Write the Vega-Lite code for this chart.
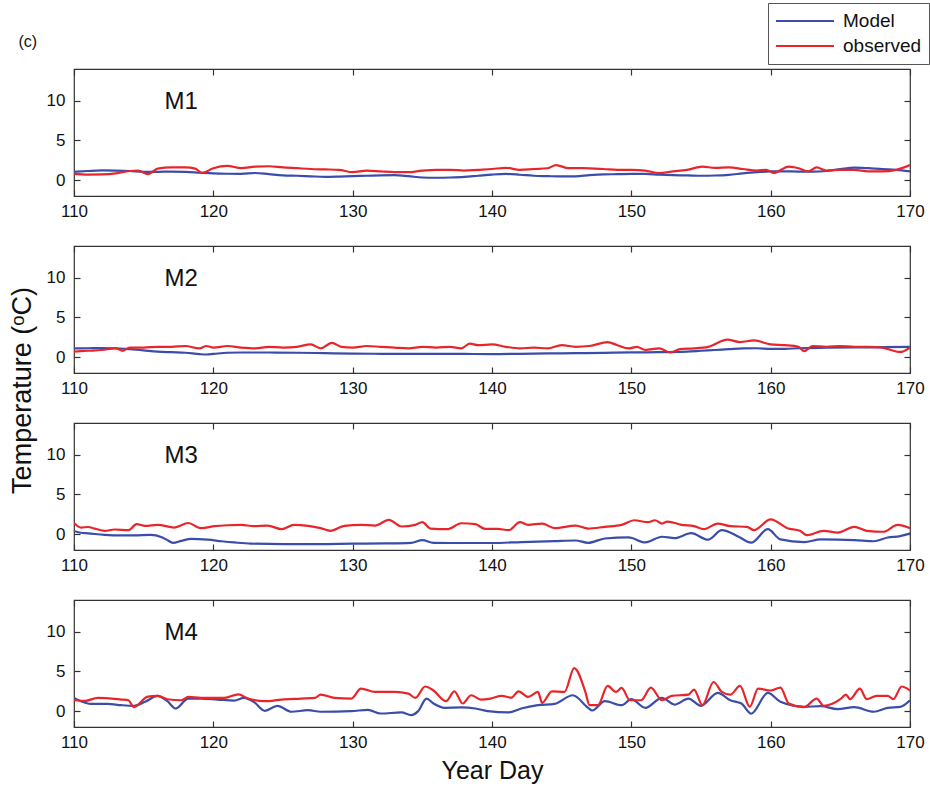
{
  "$schema": "https://vega.github.io/schema/vega-lite/v6.json",
  "padding": {"left": 7, "top": 2, "right": 2, "bottom": 2},
  "background": "white",
  "title": {"text": "(c)", "anchor": "start", "frame": "bounds", "fontSize": 16, "font": "Liberation Sans", "fontWeight": "normal", "color": "#111", "offset": -47, "dx": 11},
  "config": {
    "view": {"stroke": "#333", "strokeWidth": 1.2},
    "axis": {"domain": false, "grid": false, "tickColor": "#333", "tickSize": -6, "tickWidth": 1.2, "labelFont": "Liberation Sans Narrow, Arial Narrow, Liberation Sans", "labelFontSize": 17, "labelColor": "#111", "labelFlush": false},
    "axisX": {"labelPadding": 13},
    "axisY": {"labelPadding": 15},
    "legend": {"orient": "none", "legendX": 694, "legendY": -66, "title": null, "symbolType": "stroke", "symbolSize": 3364, "symbolStrokeWidth": 2, "clipHeight": 22, "labelFont": "Liberation Sans", "labelFontSize": 19, "labelColor": "#111", "strokeColor": "#555", "fillColor": "white", "padding": 7, "rowPadding": 3, "labelOffset": 8}
  },
  "spacing": 50,
  "bounds": "flush",
  "datasets": {
    "temp": [
      {"p":"M1","s":"Model","d":110,"t":1.05},{"p":"M1","s":"Model","d":111,"t":1.15},{"p":"M1","s":"Model","d":112,"t":1.22},{"p":"M1","s":"Model","d":113,"t":1.2},{"p":"M1","s":"Model","d":114,"t":1.15},{"p":"M1","s":"Model","d":115,"t":1.05},{"p":"M1","s":"Model","d":116,"t":1.05},{"p":"M1","s":"Model","d":117,"t":1.08},{"p":"M1","s":"Model","d":118,"t":1.05},{"p":"M1","s":"Model","d":119,"t":0.95},{"p":"M1","s":"Model","d":120,"t":0.85},{"p":"M1","s":"Model","d":121,"t":0.8},{"p":"M1","s":"Model","d":122,"t":0.78},{"p":"M1","s":"Model","d":123,"t":0.9},{"p":"M1","s":"Model","d":124,"t":0.75},{"p":"M1","s":"Model","d":125,"t":0.6},{"p":"M1","s":"Model","d":126,"t":0.55},{"p":"M1","s":"Model","d":127,"t":0.48},{"p":"M1","s":"Model","d":128,"t":0.42},{"p":"M1","s":"Model","d":129,"t":0.45},{"p":"M1","s":"Model","d":130,"t":0.5},{"p":"M1","s":"Model","d":131,"t":0.55},{"p":"M1","s":"Model","d":132,"t":0.6},{"p":"M1","s":"Model","d":133,"t":0.62},{"p":"M1","s":"Model","d":134,"t":0.5},{"p":"M1","s":"Model","d":135,"t":0.33},{"p":"M1","s":"Model","d":136,"t":0.3},{"p":"M1","s":"Model","d":137,"t":0.33},{"p":"M1","s":"Model","d":138,"t":0.4},{"p":"M1","s":"Model","d":139,"t":0.55},{"p":"M1","s":"Model","d":140,"t":0.7},{"p":"M1","s":"Model","d":141,"t":0.78},{"p":"M1","s":"Model","d":142,"t":0.68},{"p":"M1","s":"Model","d":143,"t":0.55},{"p":"M1","s":"Model","d":144,"t":0.5},{"p":"M1","s":"Model","d":145,"t":0.46},{"p":"M1","s":"Model","d":146,"t":0.48},{"p":"M1","s":"Model","d":147,"t":0.62},{"p":"M1","s":"Model","d":148,"t":0.72},{"p":"M1","s":"Model","d":149,"t":0.75},{"p":"M1","s":"Model","d":150,"t":0.78},{"p":"M1","s":"Model","d":151,"t":0.78},{"p":"M1","s":"Model","d":152,"t":0.68},{"p":"M1","s":"Model","d":153,"t":0.62},{"p":"M1","s":"Model","d":154,"t":0.6},{"p":"M1","s":"Model","d":155,"t":0.55},{"p":"M1","s":"Model","d":156,"t":0.58},{"p":"M1","s":"Model","d":157,"t":0.67},{"p":"M1","s":"Model","d":158,"t":0.85},{"p":"M1","s":"Model","d":159,"t":1.0},{"p":"M1","s":"Model","d":160,"t":1.1},{"p":"M1","s":"Model","d":161,"t":1.1},{"p":"M1","s":"Model","d":162,"t":1.08},{"p":"M1","s":"Model","d":163,"t":1.08},{"p":"M1","s":"Model","d":164,"t":1.15},{"p":"M1","s":"Model","d":165,"t":1.38},{"p":"M1","s":"Model","d":166,"t":1.58},{"p":"M1","s":"Model","d":167,"t":1.5},{"p":"M1","s":"Model","d":168,"t":1.38},{"p":"M1","s":"Model","d":169,"t":1.3},{"p":"M1","s":"Model","d":170,"t":1.1},
      {"p":"M1","s":"observed","d":110,"t":0.8},{"p":"M1","s":"observed","d":111,"t":0.7},{"p":"M1","s":"observed","d":112,"t":0.72},{"p":"M1","s":"observed","d":113,"t":0.85},{"p":"M1","s":"observed","d":114,"t":1.15},{"p":"M1","s":"observed","d":114.6,"t":1.2},{"p":"M1","s":"observed","d":115.3,"t":0.75},{"p":"M1","s":"observed","d":116,"t":1.45},{"p":"M1","s":"observed","d":117,"t":1.6},{"p":"M1","s":"observed","d":118,"t":1.6},{"p":"M1","s":"observed","d":118.7,"t":1.45},{"p":"M1","s":"observed","d":119.2,"t":0.9},{"p":"M1","s":"observed","d":120,"t":1.5},{"p":"M1","s":"observed","d":121,"t":1.8},{"p":"M1","s":"observed","d":122,"t":1.5},{"p":"M1","s":"observed","d":123,"t":1.7},{"p":"M1","s":"observed","d":124,"t":1.75},{"p":"M1","s":"observed","d":125,"t":1.6},{"p":"M1","s":"observed","d":126,"t":1.5},{"p":"M1","s":"observed","d":127,"t":1.4},{"p":"M1","s":"observed","d":128,"t":1.35},{"p":"M1","s":"observed","d":129,"t":1.3},{"p":"M1","s":"observed","d":130,"t":1.0},{"p":"M1","s":"observed","d":131,"t":1.2},{"p":"M1","s":"observed","d":132,"t":1.1},{"p":"M1","s":"observed","d":133,"t":1.0},{"p":"M1","s":"observed","d":134,"t":1.0},{"p":"M1","s":"observed","d":135,"t":1.2},{"p":"M1","s":"observed","d":136,"t":1.3},{"p":"M1","s":"observed","d":137,"t":1.3},{"p":"M1","s":"observed","d":138,"t":1.2},{"p":"M1","s":"observed","d":139,"t":1.3},{"p":"M1","s":"observed","d":140,"t":1.4},{"p":"M1","s":"observed","d":141,"t":1.55},{"p":"M1","s":"observed","d":142,"t":1.3},{"p":"M1","s":"observed","d":143,"t":1.4},{"p":"M1","s":"observed","d":144,"t":1.5},{"p":"M1","s":"observed","d":144.6,"t":1.9},{"p":"M1","s":"observed","d":145.5,"t":1.5},{"p":"M1","s":"observed","d":146.5,"t":1.5},{"p":"M1","s":"observed","d":148,"t":1.4},{"p":"M1","s":"observed","d":149,"t":1.3},{"p":"M1","s":"observed","d":150,"t":1.3},{"p":"M1","s":"observed","d":151,"t":1.2},{"p":"M1","s":"observed","d":152,"t":0.9},{"p":"M1","s":"observed","d":153,"t":1.1},{"p":"M1","s":"observed","d":154,"t":1.3},{"p":"M1","s":"observed","d":155.1,"t":1.7},{"p":"M1","s":"observed","d":156,"t":1.55},{"p":"M1","s":"observed","d":157,"t":1.6},{"p":"M1","s":"observed","d":158,"t":1.4},{"p":"M1","s":"observed","d":159,"t":1.2},{"p":"M1","s":"observed","d":159.7,"t":1.3},{"p":"M1","s":"observed","d":160.2,"t":0.9},{"p":"M1","s":"observed","d":161.3,"t":1.7},{"p":"M1","s":"observed","d":162,"t":1.5},{"p":"M1","s":"observed","d":162.7,"t":1.1},{"p":"M1","s":"observed","d":163.3,"t":1.6},{"p":"M1","s":"observed","d":164,"t":1.2},{"p":"M1","s":"observed","d":165,"t":1.3},{"p":"M1","s":"observed","d":166,"t":1.3},{"p":"M1","s":"observed","d":167,"t":1.1},{"p":"M1","s":"observed","d":168,"t":1.1},{"p":"M1","s":"observed","d":169,"t":1.3},{"p":"M1","s":"observed","d":170,"t":1.9},
      {"p":"M2","s":"Model","d":110,"t":1.1},{"p":"M2","s":"Model","d":111,"t":1.12},{"p":"M2","s":"Model","d":112,"t":1.15},{"p":"M2","s":"Model","d":113,"t":1.12},{"p":"M2","s":"Model","d":114,"t":1.0},{"p":"M2","s":"Model","d":115,"t":0.85},{"p":"M2","s":"Model","d":116,"t":0.7},{"p":"M2","s":"Model","d":117,"t":0.62},{"p":"M2","s":"Model","d":118,"t":0.55},{"p":"M2","s":"Model","d":119,"t":0.38},{"p":"M2","s":"Model","d":119.5,"t":0.33},{"p":"M2","s":"Model","d":120,"t":0.4},{"p":"M2","s":"Model","d":121,"t":0.55},{"p":"M2","s":"Model","d":122,"t":0.58},{"p":"M2","s":"Model","d":124,"t":0.58},{"p":"M2","s":"Model","d":126,"t":0.55},{"p":"M2","s":"Model","d":128,"t":0.5},{"p":"M2","s":"Model","d":130,"t":0.45},{"p":"M2","s":"Model","d":132,"t":0.42},{"p":"M2","s":"Model","d":134,"t":0.42},{"p":"M2","s":"Model","d":136,"t":0.42},{"p":"M2","s":"Model","d":138,"t":0.4},{"p":"M2","s":"Model","d":140,"t":0.38},{"p":"M2","s":"Model","d":142,"t":0.42},{"p":"M2","s":"Model","d":144,"t":0.46},{"p":"M2","s":"Model","d":146,"t":0.5},{"p":"M2","s":"Model","d":148,"t":0.54},{"p":"M2","s":"Model","d":150,"t":0.6},{"p":"M2","s":"Model","d":152,"t":0.62},{"p":"M2","s":"Model","d":154,"t":0.7},{"p":"M2","s":"Model","d":155,"t":0.8},{"p":"M2","s":"Model","d":156,"t":0.9},{"p":"M2","s":"Model","d":157,"t":1.0},{"p":"M2","s":"Model","d":158,"t":1.1},{"p":"M2","s":"Model","d":159,"t":1.12},{"p":"M2","s":"Model","d":160,"t":1.04},{"p":"M2","s":"Model","d":161,"t":1.05},{"p":"M2","s":"Model","d":162,"t":1.12},{"p":"M2","s":"Model","d":164,"t":1.18},{"p":"M2","s":"Model","d":166,"t":1.22},{"p":"M2","s":"Model","d":168,"t":1.25},{"p":"M2","s":"Model","d":170,"t":1.3},
      {"p":"M2","s":"observed","d":110,"t":0.7},{"p":"M2","s":"observed","d":111,"t":0.8},{"p":"M2","s":"observed","d":112,"t":0.9},{"p":"M2","s":"observed","d":113,"t":1.1},{"p":"M2","s":"observed","d":113.5,"t":0.8},{"p":"M2","s":"observed","d":114,"t":1.2},{"p":"M2","s":"observed","d":115,"t":1.2},{"p":"M2","s":"observed","d":116,"t":1.3},{"p":"M2","s":"observed","d":117,"t":1.3},{"p":"M2","s":"observed","d":118,"t":1.4},{"p":"M2","s":"observed","d":119,"t":1.1},{"p":"M2","s":"observed","d":119.5,"t":1.4},{"p":"M2","s":"observed","d":120,"t":1.2},{"p":"M2","s":"observed","d":121,"t":1.4},{"p":"M2","s":"observed","d":122,"t":1.2},{"p":"M2","s":"observed","d":123,"t":1.1},{"p":"M2","s":"observed","d":124,"t":1.3},{"p":"M2","s":"observed","d":125,"t":1.2},{"p":"M2","s":"observed","d":126,"t":1.3},{"p":"M2","s":"observed","d":127,"t":1.6},{"p":"M2","s":"observed","d":127.7,"t":1.1},{"p":"M2","s":"observed","d":128.5,"t":1.8},{"p":"M2","s":"observed","d":129.2,"t":1.3},{"p":"M2","s":"observed","d":130,"t":1.2},{"p":"M2","s":"observed","d":131,"t":1.4},{"p":"M2","s":"observed","d":132,"t":1.3},{"p":"M2","s":"observed","d":133,"t":1.2},{"p":"M2","s":"observed","d":134,"t":1.1},{"p":"M2","s":"observed","d":135,"t":1.3},{"p":"M2","s":"observed","d":136,"t":1.2},{"p":"M2","s":"observed","d":137,"t":1.3},{"p":"M2","s":"observed","d":137.8,"t":1.1},{"p":"M2","s":"observed","d":138.4,"t":1.7},{"p":"M2","s":"observed","d":139,"t":1.5},{"p":"M2","s":"observed","d":140,"t":1.6},{"p":"M2","s":"observed","d":141,"t":1.3},{"p":"M2","s":"observed","d":142,"t":1.1},{"p":"M2","s":"observed","d":143,"t":1.2},{"p":"M2","s":"observed","d":144,"t":1.1},{"p":"M2","s":"observed","d":145,"t":1.5},{"p":"M2","s":"observed","d":146,"t":1.3},{"p":"M2","s":"observed","d":147,"t":1.4},{"p":"M2","s":"observed","d":148.3,"t":1.9},{"p":"M2","s":"observed","d":149,"t":1.5},{"p":"M2","s":"observed","d":149.8,"t":1.1},{"p":"M2","s":"observed","d":150.4,"t":1.3},{"p":"M2","s":"observed","d":151,"t":0.9},{"p":"M2","s":"observed","d":152,"t":1.1},{"p":"M2","s":"observed","d":152.8,"t":0.6},{"p":"M2","s":"observed","d":153.5,"t":1.0},{"p":"M2","s":"observed","d":154.5,"t":1.1},{"p":"M2","s":"observed","d":155.5,"t":1.3},{"p":"M2","s":"observed","d":156.9,"t":2.2},{"p":"M2","s":"observed","d":157.8,"t":1.9},{"p":"M2","s":"observed","d":158.8,"t":2.1},{"p":"M2","s":"observed","d":160,"t":1.6},{"p":"M2","s":"observed","d":161,"t":1.5},{"p":"M2","s":"observed","d":162,"t":1.3},{"p":"M2","s":"observed","d":162.4,"t":0.75},{"p":"M2","s":"observed","d":163,"t":1.4},{"p":"M2","s":"observed","d":164,"t":1.3},{"p":"M2","s":"observed","d":165,"t":1.4},{"p":"M2","s":"observed","d":166,"t":1.3},{"p":"M2","s":"observed","d":167,"t":1.3},{"p":"M2","s":"observed","d":168,"t":1.2},{"p":"M2","s":"observed","d":169.3,"t":0.65},{"p":"M2","s":"observed","d":170,"t":1.2},
      {"p":"M3","s":"Model","d":110,"t":0.4},{"p":"M3","s":"Model","d":110.5,"t":0.17},{"p":"M3","s":"Model","d":111,"t":0.1},{"p":"M3","s":"Model","d":112.2,"t":-0.1},{"p":"M3","s":"Model","d":113.4,"t":-0.17},{"p":"M3","s":"Model","d":114.3,"t":-0.17},{"p":"M3","s":"Model","d":115.5,"t":-0.1},{"p":"M3","s":"Model","d":116.3,"t":-0.4},{"p":"M3","s":"Model","d":116.7,"t":-0.75},{"p":"M3","s":"Model","d":117.1,"t":-1.1},{"p":"M3","s":"Model","d":117.7,"t":-0.85},{"p":"M3","s":"Model","d":118.4,"t":-0.6},{"p":"M3","s":"Model","d":119.6,"t":-0.7},{"p":"M3","s":"Model","d":120.6,"t":-0.9},{"p":"M3","s":"Model","d":121.5,"t":-1.05},{"p":"M3","s":"Model","d":122.7,"t":-1.2},{"p":"M3","s":"Model","d":125.1,"t":-1.25},{"p":"M3","s":"Model","d":127.5,"t":-1.25},{"p":"M3","s":"Model","d":130,"t":-1.2},{"p":"M3","s":"Model","d":132.3,"t":-1.17},{"p":"M3","s":"Model","d":134.2,"t":-1.1},{"p":"M3","s":"Model","d":135,"t":-0.75},{"p":"M3","s":"Model","d":135.8,"t":-1.1},{"p":"M3","s":"Model","d":137,"t":-1.12},{"p":"M3","s":"Model","d":140,"t":-1.12},{"p":"M3","s":"Model","d":142.1,"t":-1.0},{"p":"M3","s":"Model","d":144.5,"t":-0.87},{"p":"M3","s":"Model","d":146,"t":-0.8},{"p":"M3","s":"Model","d":146.9,"t":-1.1},{"p":"M3","s":"Model","d":148.1,"t":-0.55},{"p":"M3","s":"Model","d":149.8,"t":-0.42},{"p":"M3","s":"Model","d":151,"t":-1.05},{"p":"M3","s":"Model","d":152.2,"t":-0.33},{"p":"M3","s":"Model","d":153.1,"t":-0.5},{"p":"M3","s":"Model","d":154.3,"t":0.12},{"p":"M3","s":"Model","d":155.5,"t":-0.7},{"p":"M3","s":"Model","d":156.5,"t":0.5},{"p":"M3","s":"Model","d":157.7,"t":-0.33},{"p":"M3","s":"Model","d":158.6,"t":-1.08},{"p":"M3","s":"Model","d":159.8,"t":0.62},{"p":"M3","s":"Model","d":160.7,"t":-0.67},{"p":"M3","s":"Model","d":162.4,"t":-1.0},{"p":"M3","s":"Model","d":163.6,"t":-0.67},{"p":"M3","s":"Model","d":166,"t":-0.75},{"p":"M3","s":"Model","d":167.4,"t":-0.9},{"p":"M3","s":"Model","d":168.4,"t":-0.42},{"p":"M3","s":"Model","d":169.3,"t":-0.25},{"p":"M3","s":"Model","d":170,"t":0.1},
      {"p":"M3","s":"observed","d":110,"t":1.4},{"p":"M3","s":"observed","d":110.5,"t":0.83},{"p":"M3","s":"observed","d":111,"t":0.9},{"p":"M3","s":"observed","d":111.5,"t":0.7},{"p":"M3","s":"observed","d":112.2,"t":0.4},{"p":"M3","s":"observed","d":112.9,"t":0.58},{"p":"M3","s":"observed","d":113.9,"t":0.5},{"p":"M3","s":"observed","d":114.5,"t":1.25},{"p":"M3","s":"observed","d":115.1,"t":1.04},{"p":"M3","s":"observed","d":116,"t":1.17},{"p":"M3","s":"observed","d":117.2,"t":0.83},{"p":"M3","s":"observed","d":118.2,"t":1.4},{"p":"M3","s":"observed","d":119.1,"t":0.75},{"p":"M3","s":"observed","d":120.1,"t":1.0},{"p":"M3","s":"observed","d":121,"t":1.12},{"p":"M3","s":"observed","d":122,"t":1.17},{"p":"M3","s":"observed","d":122.9,"t":1.0},{"p":"M3","s":"observed","d":123.9,"t":1.08},{"p":"M3","s":"observed","d":124.9,"t":0.62},{"p":"M3","s":"observed","d":125.8,"t":1.17},{"p":"M3","s":"observed","d":126.8,"t":1.04},{"p":"M3","s":"observed","d":127.7,"t":0.75},{"p":"M3","s":"observed","d":128.4,"t":0.42},{"p":"M3","s":"observed","d":129.4,"t":1.04},{"p":"M3","s":"observed","d":130.6,"t":1.17},{"p":"M3","s":"observed","d":131.6,"t":1.08},{"p":"M3","s":"observed","d":132.6,"t":1.8},{"p":"M3","s":"observed","d":133.5,"t":0.96},{"p":"M3","s":"observed","d":134.5,"t":1.17},{"p":"M3","s":"observed","d":135,"t":1.5},{"p":"M3","s":"observed","d":135.6,"t":0.7},{"p":"M3","s":"observed","d":136.8,"t":0.62},{"p":"M3","s":"observed","d":137.8,"t":1.37},{"p":"M3","s":"observed","d":138.8,"t":1.25},{"p":"M3","s":"observed","d":139.5,"t":0.67},{"p":"M3","s":"observed","d":140.4,"t":0.67},{"p":"M3","s":"observed","d":141.2,"t":0.5},{"p":"M3","s":"observed","d":142,"t":1.5},{"p":"M3","s":"observed","d":142.6,"t":1.17},{"p":"M3","s":"observed","d":143.6,"t":1.33},{"p":"M3","s":"observed","d":144.5,"t":0.75},{"p":"M3","s":"observed","d":146,"t":1.08},{"p":"M3","s":"observed","d":146.9,"t":0.7},{"p":"M3","s":"observed","d":148.1,"t":0.92},{"p":"M3","s":"observed","d":149.3,"t":1.17},{"p":"M3","s":"observed","d":150.2,"t":1.75},{"p":"M3","s":"observed","d":151.2,"t":1.5},{"p":"M3","s":"observed","d":151.7,"t":1.75},{"p":"M3","s":"observed","d":152.2,"t":1.33},{"p":"M3","s":"observed","d":152.6,"t":1.58},{"p":"M3","s":"observed","d":153.6,"t":1.17},{"p":"M3","s":"observed","d":154.5,"t":1.0},{"p":"M3","s":"observed","d":155.2,"t":0.62},{"p":"M3","s":"observed","d":156.2,"t":1.33},{"p":"M3","s":"observed","d":157.1,"t":1.0},{"p":"M3","s":"observed","d":158.3,"t":0.92},{"p":"M3","s":"observed","d":158.8,"t":0.5},{"p":"M3","s":"observed","d":160,"t":1.87},{"p":"M3","s":"observed","d":161.2,"t":0.75},{"p":"M3","s":"observed","d":162.1,"t":0.42},{"p":"M3","s":"observed","d":162.6,"t":-0.12},{"p":"M3","s":"observed","d":163.8,"t":0.42},{"p":"M3","s":"observed","d":164.8,"t":0.2},{"p":"M3","s":"observed","d":166,"t":0.92},{"p":"M3","s":"observed","d":166.9,"t":0.42},{"p":"M3","s":"observed","d":168.1,"t":0.3},{"p":"M3","s":"observed","d":169.1,"t":1.17},{"p":"M3","s":"observed","d":170,"t":0.75},
      {"p":"M4","s":"Model","d":110,"t":1.67},{"p":"M4","s":"Model","d":110.5,"t":1.25},{"p":"M4","s":"Model","d":111.2,"t":0.92},{"p":"M4","s":"Model","d":112.4,"t":0.92},{"p":"M4","s":"Model","d":113.4,"t":0.75},{"p":"M4","s":"Model","d":114.3,"t":0.67},{"p":"M4","s":"Model","d":115.1,"t":1.17},{"p":"M4","s":"Model","d":116,"t":1.92},{"p":"M4","s":"Model","d":116.7,"t":1.25},{"p":"M4","s":"Model","d":117.3,"t":0.33},{"p":"M4","s":"Model","d":118.2,"t":1.58},{"p":"M4","s":"Model","d":119.1,"t":1.58},{"p":"M4","s":"Model","d":120.3,"t":1.46},{"p":"M4","s":"Model","d":121.5,"t":1.33},{"p":"M4","s":"Model","d":122.2,"t":1.67},{"p":"M4","s":"Model","d":122.9,"t":1.17},{"p":"M4","s":"Model","d":123.7,"t":0.04},{"p":"M4","s":"Model","d":124.6,"t":0.67},{"p":"M4","s":"Model","d":125.6,"t":-0.08},{"p":"M4","s":"Model","d":126.8,"t":0.12},{"p":"M4","s":"Model","d":127.7,"t":-0.08},{"p":"M4","s":"Model","d":129.9,"t":0},{"p":"M4","s":"Model","d":131.1,"t":0.17},{"p":"M4","s":"Model","d":132,"t":-0.3},{"p":"M4","s":"Model","d":133.5,"t":-0.17},{"p":"M4","s":"Model","d":134.2,"t":-0.5},{"p":"M4","s":"Model","d":134.7,"t":0},{"p":"M4","s":"Model","d":135.3,"t":1.58},{"p":"M4","s":"Model","d":135.8,"t":0.96},{"p":"M4","s":"Model","d":136.6,"t":0.42},{"p":"M4","s":"Model","d":137.8,"t":0.46},{"p":"M4","s":"Model","d":138.8,"t":0.33},{"p":"M4","s":"Model","d":139.7,"t":0},{"p":"M4","s":"Model","d":141.2,"t":-0.17},{"p":"M4","s":"Model","d":142.1,"t":0.33},{"p":"M4","s":"Model","d":143.3,"t":0.75},{"p":"M4","s":"Model","d":144.5,"t":0.92},{"p":"M4","s":"Model","d":145.8,"t":2.0},{"p":"M4","s":"Model","d":146.9,"t":0.42},{"p":"M4","s":"Model","d":147.2,"t":0.08},{"p":"M4","s":"Model","d":148.1,"t":1.25},{"p":"M4","s":"Model","d":149.3,"t":0.75},{"p":"M4","s":"Model","d":150,"t":1.5},{"p":"M4","s":"Model","d":151,"t":0.42},{"p":"M4","s":"Model","d":152.2,"t":1.67},{"p":"M4","s":"Model","d":153.1,"t":0.83},{"p":"M4","s":"Model","d":154.1,"t":1.58},{"p":"M4","s":"Model","d":155,"t":0.67},{"p":"M4","s":"Model","d":156.2,"t":2.3},{"p":"M4","s":"Model","d":157.1,"t":1.37},{"p":"M4","s":"Model","d":157.9,"t":0.96},{"p":"M4","s":"Model","d":158.6,"t":-0.33},{"p":"M4","s":"Model","d":159.8,"t":2.3},{"p":"M4","s":"Model","d":160.7,"t":1.17},{"p":"M4","s":"Model","d":162.4,"t":0.54},{"p":"M4","s":"Model","d":163.6,"t":0.62},{"p":"M4","s":"Model","d":164.8,"t":0.25},{"p":"M4","s":"Model","d":166,"t":0.5},{"p":"M4","s":"Model","d":167.4,"t":-0.08},{"p":"M4","s":"Model","d":168.4,"t":0.42},{"p":"M4","s":"Model","d":169.3,"t":0.54},{"p":"M4","s":"Model","d":170,"t":1.37},
      {"p":"M4","s":"observed","d":110,"t":1.37},{"p":"M4","s":"observed","d":110.8,"t":1.3},{"p":"M4","s":"observed","d":111.7,"t":1.67},{"p":"M4","s":"observed","d":113.4,"t":1.46},{"p":"M4","s":"observed","d":113.9,"t":1.37},{"p":"M4","s":"observed","d":114.3,"t":0.5},{"p":"M4","s":"observed","d":115.3,"t":1.83},{"p":"M4","s":"observed","d":116,"t":1.92},{"p":"M4","s":"observed","d":116.7,"t":1.5},{"p":"M4","s":"observed","d":117.7,"t":1.37},{"p":"M4","s":"observed","d":118.2,"t":1.79},{"p":"M4","s":"observed","d":119.1,"t":1.67},{"p":"M4","s":"observed","d":120.8,"t":1.67},{"p":"M4","s":"observed","d":121.8,"t":2.12},{"p":"M4","s":"observed","d":122.5,"t":1.58},{"p":"M4","s":"observed","d":123.7,"t":1.25},{"p":"M4","s":"observed","d":124.9,"t":1.46},{"p":"M4","s":"observed","d":126.3,"t":1.58},{"p":"M4","s":"observed","d":127.3,"t":1.67},{"p":"M4","s":"observed","d":127.7,"t":2.08},{"p":"M4","s":"observed","d":128.7,"t":1.67},{"p":"M4","s":"observed","d":129.9,"t":1.58},{"p":"M4","s":"observed","d":130.6,"t":2.83},{"p":"M4","s":"observed","d":131.6,"t":2.42},{"p":"M4","s":"observed","d":133,"t":2.42},{"p":"M4","s":"observed","d":134,"t":2.2},{"p":"M4","s":"observed","d":134.5,"t":1.67},{"p":"M4","s":"observed","d":135.2,"t":3.1},{"p":"M4","s":"observed","d":135.8,"t":2.6},{"p":"M4","s":"observed","d":136.7,"t":1.25},{"p":"M4","s":"observed","d":137.3,"t":2.5},{"p":"M4","s":"observed","d":137.9,"t":0.96},{"p":"M4","s":"observed","d":138.5,"t":2.0},{"p":"M4","s":"observed","d":139.2,"t":1.46},{"p":"M4","s":"observed","d":139.9,"t":1.58},{"p":"M4","s":"observed","d":140.7,"t":1.92},{"p":"M4","s":"observed","d":141.4,"t":1.7},{"p":"M4","s":"observed","d":141.9,"t":2.5},{"p":"M4","s":"observed","d":142.6,"t":1.79},{"p":"M4","s":"observed","d":143.3,"t":2.42},{"p":"M4","s":"observed","d":143.6,"t":1.04},{"p":"M4","s":"observed","d":144.3,"t":2.5},{"p":"M4","s":"observed","d":145.2,"t":2.42},{"p":"M4","s":"observed","d":145.9,"t":5.42},{"p":"M4","s":"observed","d":146.7,"t":2.42},{"p":"M4","s":"observed","d":147,"t":0.75},{"p":"M4","s":"observed","d":147.6,"t":0.75},{"p":"M4","s":"observed","d":148.3,"t":3.17},{"p":"M4","s":"observed","d":148.9,"t":2.42},{"p":"M4","s":"observed","d":149.3,"t":2.92},{"p":"M4","s":"observed","d":149.9,"t":1.37},{"p":"M4","s":"observed","d":150.7,"t":1.37},{"p":"M4","s":"observed","d":151.4,"t":2.96},{"p":"M4","s":"observed","d":152.2,"t":1.37},{"p":"M4","s":"observed","d":152.9,"t":1.92},{"p":"M4","s":"observed","d":154.1,"t":2.08},{"p":"M4","s":"observed","d":154.5,"t":2.7},{"p":"M4","s":"observed","d":155.1,"t":0.75},{"p":"M4","s":"observed","d":155.9,"t":3.67},{"p":"M4","s":"observed","d":156.5,"t":2.42},{"p":"M4","s":"observed","d":157.1,"t":2.08},{"p":"M4","s":"observed","d":157.8,"t":3.17},{"p":"M4","s":"observed","d":158.5,"t":0.54},{"p":"M4","s":"observed","d":159.1,"t":2.83},{"p":"M4","s":"observed","d":160,"t":2.6},{"p":"M4","s":"observed","d":160.7,"t":2.96},{"p":"M4","s":"observed","d":161.3,"t":0.96},{"p":"M4","s":"observed","d":162.4,"t":0.5},{"p":"M4","s":"observed","d":163.3,"t":1.58},{"p":"M4","s":"observed","d":163.8,"t":0.67},{"p":"M4","s":"observed","d":165,"t":1.5},{"p":"M4","s":"observed","d":165.4,"t":2.08},{"p":"M4","s":"observed","d":165.7,"t":1.5},{"p":"M4","s":"observed","d":166.4,"t":2.83},{"p":"M4","s":"observed","d":166.9,"t":1.5},{"p":"M4","s":"observed","d":167.6,"t":1.92},{"p":"M4","s":"observed","d":168.4,"t":1.92},{"p":"M4","s":"observed","d":168.8,"t":1.5},{"p":"M4","s":"observed","d":169.4,"t":3.1},{"p":"M4","s":"observed","d":170,"t":2.6}
    ]
  },
  "vconcat": [
    {
      "width": 836, "height": 127,
      "layer": [
        {
          "data": {"name": "temp"},
          "transform": [{"filter": "datum.p == 'M1'"}],
          "mark": {"type": "line", "interpolate": "monotone", "strokeWidth": 2.2, "clip": true},
          "encoding": {
            "x": {"field": "d", "type": "quantitative", "scale": {"domain": [110, 170], "nice": false, "zero": false}, "axis": {"orient": "bottom", "values": [110,120,130,140,150,160,170], "title": null}},
            "y": {"field": "t", "type": "quantitative", "scale": {"domain": [-2, 14], "nice": false, "zero": false}, "axis": {"orient": "left", "values": [0,5,10], "title": null}},
            "color": {"field": "s", "type": "nominal", "scale": {"domain": ["Model", "observed"], "range": ["#3a4daa", "#e8252a"]}}
          }
        },
        {
          "data": {"values": [{"lab": "M1"}]},
          "mark": {"type": "text", "align": "left", "baseline": "middle", "fontSize": 24, "font": "Liberation Sans Narrow, Arial Narrow, Liberation Sans", "color": "#111"},
          "encoding": {
            "x": {"datum": 116.5, "type": "quantitative", "scale": {"domain": [110, 170], "nice": false, "zero": false}, "axis": {"orient": "top", "values": [110,120,130,140,150,160,170], "labels": false, "title": null}},
            "y": {"datum": 9.9, "type": "quantitative", "scale": {"domain": [-2, 14], "nice": false, "zero": false}, "axis": {"orient": "right", "values": [0,5,10], "labels": false, "title": null}},
            "text": {"field": "lab"}
          }
        }
      ],
      "resolve": {"axis": {"x": "independent", "y": "independent"}}
    },
    {
      "width": 836, "height": 127,
      "layer": [
        {
          "data": {"name": "temp"},
          "transform": [{"filter": "datum.p == 'M2'"}],
          "mark": {"type": "line", "interpolate": "monotone", "strokeWidth": 2.2, "clip": true},
          "encoding": {
            "x": {"field": "d", "type": "quantitative", "scale": {"domain": [110, 170], "nice": false, "zero": false}, "axis": {"orient": "bottom", "values": [110,120,130,140,150,160,170], "title": null}},
            "y": {"field": "t", "type": "quantitative", "scale": {"domain": [-2, 14], "nice": false, "zero": false}, "axis": {"orient": "left", "values": [0,5,10], "title": "Temperature (ᵒC)", "titleFont": "Liberation Sans", "titleFontSize": 27, "titleFontWeight": "normal", "titleColor": "#111", "titleY": 144, "titlePadding": 10}},
            "color": {"field": "s", "type": "nominal", "scale": {"domain": ["Model", "observed"], "range": ["#3a4daa", "#e8252a"]}}
          }
        },
        {
          "data": {"values": [{"lab": "M2"}]},
          "mark": {"type": "text", "align": "left", "baseline": "middle", "fontSize": 24, "font": "Liberation Sans Narrow, Arial Narrow, Liberation Sans", "color": "#111"},
          "encoding": {
            "x": {"datum": 116.5, "type": "quantitative", "scale": {"domain": [110, 170], "nice": false, "zero": false}, "axis": {"orient": "top", "values": [110,120,130,140,150,160,170], "labels": false, "title": null}},
            "y": {"datum": 9.9, "type": "quantitative", "scale": {"domain": [-2, 14], "nice": false, "zero": false}, "axis": {"orient": "right", "values": [0,5,10], "labels": false, "title": null}},
            "text": {"field": "lab"}
          }
        }
      ],
      "resolve": {"axis": {"x": "independent", "y": "independent"}}
    },
    {
      "width": 836, "height": 127,
      "layer": [
        {
          "data": {"name": "temp"},
          "transform": [{"filter": "datum.p == 'M3'"}],
          "mark": {"type": "line", "interpolate": "monotone", "strokeWidth": 2.2, "clip": true},
          "encoding": {
            "x": {"field": "d", "type": "quantitative", "scale": {"domain": [110, 170], "nice": false, "zero": false}, "axis": {"orient": "bottom", "values": [110,120,130,140,150,160,170], "title": null}},
            "y": {"field": "t", "type": "quantitative", "scale": {"domain": [-2, 14], "nice": false, "zero": false}, "axis": {"orient": "left", "values": [0,5,10], "title": null}},
            "color": {"field": "s", "type": "nominal", "scale": {"domain": ["Model", "observed"], "range": ["#3a4daa", "#e8252a"]}}
          }
        },
        {
          "data": {"values": [{"lab": "M3"}]},
          "mark": {"type": "text", "align": "left", "baseline": "middle", "fontSize": 24, "font": "Liberation Sans Narrow, Arial Narrow, Liberation Sans", "color": "#111"},
          "encoding": {
            "x": {"datum": 116.5, "type": "quantitative", "scale": {"domain": [110, 170], "nice": false, "zero": false}, "axis": {"orient": "top", "values": [110,120,130,140,150,160,170], "labels": false, "title": null}},
            "y": {"datum": 9.9, "type": "quantitative", "scale": {"domain": [-2, 14], "nice": false, "zero": false}, "axis": {"orient": "right", "values": [0,5,10], "labels": false, "title": null}},
            "text": {"field": "lab"}
          }
        }
      ],
      "resolve": {"axis": {"x": "independent", "y": "independent"}}
    },
    {
      "width": 836, "height": 127,
      "layer": [
        {
          "data": {"name": "temp"},
          "transform": [{"filter": "datum.p == 'M4'"}],
          "mark": {"type": "line", "interpolate": "monotone", "strokeWidth": 2.2, "clip": true},
          "encoding": {
            "x": {"field": "d", "type": "quantitative", "scale": {"domain": [110, 170], "nice": false, "zero": false}, "axis": {"orient": "bottom", "values": [110,120,130,140,150,160,170], "title": "Year Day", "titleFont": "Liberation Sans Narrow, Arial Narrow, Liberation Sans", "titleFontSize": 25, "titleFontWeight": "normal", "titleColor": "#111", "titlePadding": 8}},
            "y": {"field": "t", "type": "quantitative", "scale": {"domain": [-2, 14], "nice": false, "zero": false}, "axis": {"orient": "left", "values": [0,5,10], "title": null}},
            "color": {"field": "s", "type": "nominal", "scale": {"domain": ["Model", "observed"], "range": ["#3a4daa", "#e8252a"]}}
          }
        },
        {
          "data": {"values": [{"lab": "M4"}]},
          "mark": {"type": "text", "align": "left", "baseline": "middle", "fontSize": 24, "font": "Liberation Sans Narrow, Arial Narrow, Liberation Sans", "color": "#111"},
          "encoding": {
            "x": {"datum": 116.5, "type": "quantitative", "scale": {"domain": [110, 170], "nice": false, "zero": false}, "axis": {"orient": "top", "values": [110,120,130,140,150,160,170], "labels": false, "title": null}},
            "y": {"datum": 9.9, "type": "quantitative", "scale": {"domain": [-2, 14], "nice": false, "zero": false}, "axis": {"orient": "right", "values": [0,5,10], "labels": false, "title": null}},
            "text": {"field": "lab"}
          }
        }
      ],
      "resolve": {"axis": {"x": "independent", "y": "independent"}}
    }
  ]
}
